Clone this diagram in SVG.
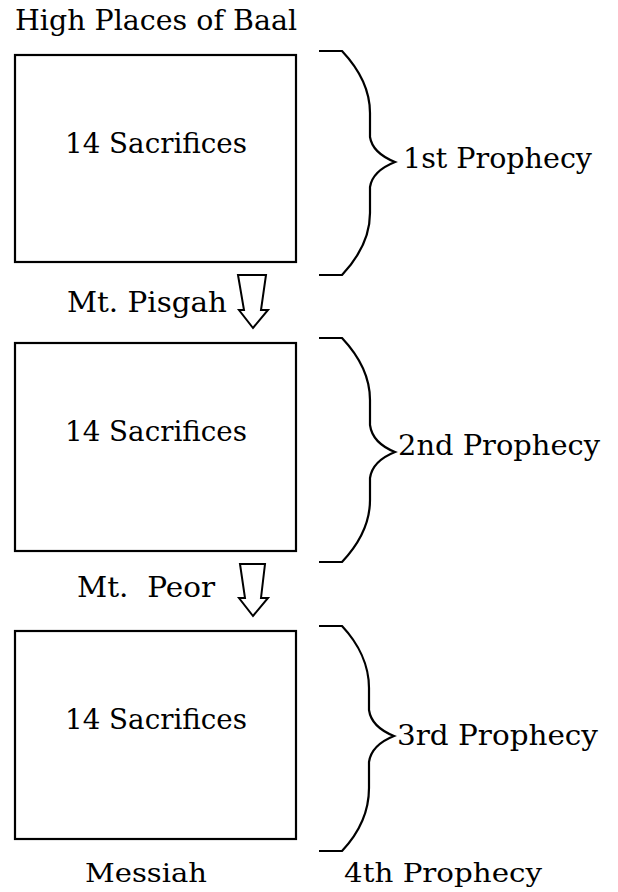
<svg xmlns="http://www.w3.org/2000/svg" width="618" height="892" viewBox="0 0 618 892">
<style>
text{font-family:"DejaVu Serif","Liberation Serif",serif;font-size:28px;fill:#000}
.small{font-size:26px}
.box{fill:#fff;stroke:#000;stroke-width:2.2}
.brace{fill:none;stroke:#000;stroke-width:2.2}
.arrow{fill:#fff;stroke:#000;stroke-width:2;stroke-linejoin:miter}
</style>
<rect width="618" height="892" fill="#fff"/>
<g id="title"><text x="15" y="30" textLength="282" lengthAdjust="spacingAndGlyphs">High Places of Baal</text></g>
<g id="box1"><rect class="box" x="15" y="55" width="281" height="207"/><text x="65" y="153" textLength="182" lengthAdjust="spacingAndGlyphs">14 Sacrifices</text></g>
<g id="box2"><rect class="box" x="15" y="343" width="281" height="208"/><text x="65" y="441" textLength="182" lengthAdjust="spacingAndGlyphs">14 Sacrifices</text></g>
<g id="box3"><rect class="box" x="15" y="631" width="281" height="208"/><text x="65" y="729" textLength="182" lengthAdjust="spacingAndGlyphs">14 Sacrifices</text></g>
<g id="brace1"><path class="brace" d="M319,51 H342 C358,68 370,90 370,113 V137 C372,150 385,158 395,162 C385,166 372,174 370,187 V213 C370,238 358,258 342,275 H319"/><text x="403" y="168" textLength="189" lengthAdjust="spacingAndGlyphs">1st Prophecy</text></g>
<g id="brace2"><path class="brace" d="M319,338 H342 C358,355 370,377 370,400 V425 C372,440 385,448 395,452 C385,456 372,464 370,478 V500 C370,525 358,545 342,562 H319"/><text x="398" y="455" textLength="202" lengthAdjust="spacingAndGlyphs">2nd Prophecy</text></g>
<g id="brace3"><path class="brace" d="M319,626 H342 C358,643 369,665 369,688 V710 C371,724 384,732 394,736 C384,740 371,748 369,762 V788 C369,813 358,834 342,851 H319"/><text x="397" y="745" textLength="201" lengthAdjust="spacingAndGlyphs">3rd Prophecy</text></g>
<g id="labels">
<text x="67" y="312" textLength="160" lengthAdjust="spacingAndGlyphs">Mt. Pisgah</text>
<text x="77" y="597" xml:space="preserve" textLength="138" lengthAdjust="spacingAndGlyphs">Mt.  Peor</text>
<text class="small" x="85" y="882" textLength="122" lengthAdjust="spacingAndGlyphs">Messiah</text>
<text class="small" x="344" y="882" textLength="198" lengthAdjust="spacingAndGlyphs">4th Prophecy</text>
</g>
<g id="connectors">
<path class="arrow" d="M238,275 L244,310 L239,310 L253,328 L268,310 L261,310 L266,275 Z"/>
<path class="arrow" d="M240,564 L245,598 L239,598 L253,616 L268,598 L261,598 L265,564 Z"/>
</g>
</svg>
